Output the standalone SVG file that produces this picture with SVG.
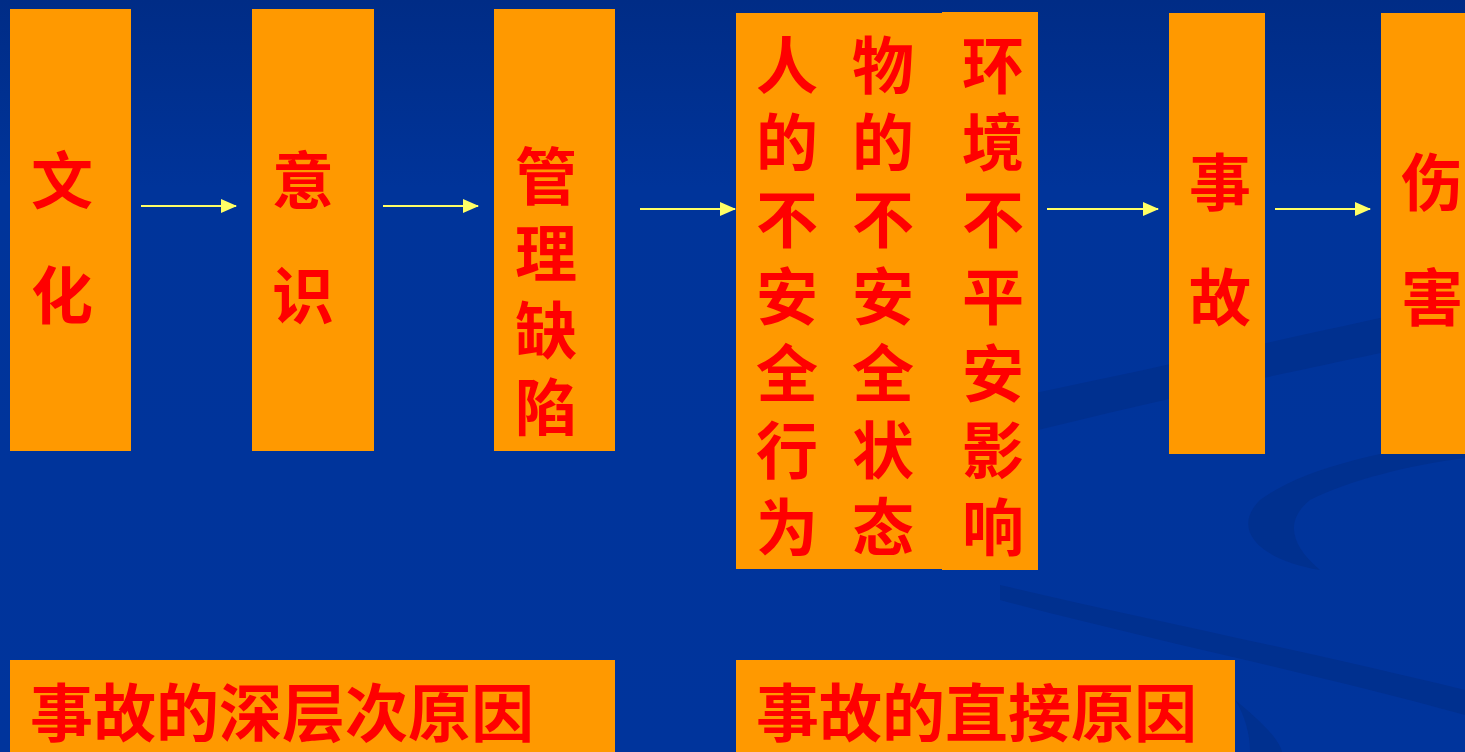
<svg xmlns="http://www.w3.org/2000/svg" width="1465" height="752" viewBox="0 0 1465 752">
<defs>
<linearGradient id="bg" x1="0" y1="0" x2="0" y2="1">
<stop offset="0" stop-color="#002c86"/>
<stop offset="0.25" stop-color="#00349a"/>
<stop offset="1" stop-color="#00349c"/>
</linearGradient>
<marker id="ah" markerWidth="16" markerHeight="14" refX="15" refY="7" orient="auto" markerUnits="userSpaceOnUse">
<path d="M0,0 L16,7 L0,14 Z" fill="#ffff66"/>
</marker>
<style>
.box{fill:#ff9900}
.t{font-family:"Noto Sans CJK SC","Noto Sans CJK TC",sans-serif;font-weight:bold;font-size:62px;fill:#ff0000;text-anchor:middle}
.tb{font-family:"Noto Sans CJK SC","Noto Sans CJK TC",sans-serif;font-weight:bold;font-size:63px;fill:#ff0000}
.c{stroke:#ffff66;stroke-width:2;fill:none;marker-end:url(#ah)}
.sw{fill:#00308f}
</style>
</defs>
<rect width="1465" height="752" fill="url(#bg)"/>
<g id="background-swirl">
<path class="sw" d="M1000,440 C1150,400 1350,360 1465,335 L1465,300 C1320,330 1150,370 1000,400 Z"/>
<path class="sw" d="M1465,440 C1380,450 1300,470 1260,500 C1230,530 1260,560 1320,570 C1290,545 1285,520 1310,500 C1350,480 1410,465 1465,458 Z"/>
<path class="sw" d="M1000,600 C1150,640 1300,670 1465,715 L1465,690 C1300,650 1150,620 1000,585 Z"/>
<path class="sw" d="M1235,700 C1260,720 1280,740 1282,752 L1250,752 C1250,735 1245,715 1235,700 Z"/>
</g>
<g id="connectors">
<line class="c" x1="141" y1="206" x2="236" y2="206"/>
<line class="c" x1="383" y1="206" x2="478" y2="206"/>
<line class="c" x1="640" y1="209" x2="735" y2="209"/>
<line class="c" x1="1047" y1="209" x2="1158" y2="209"/>
<line class="c" x1="1275" y1="209" x2="1370" y2="209"/>
</g>
<g id="node-culture">
<rect class="box" x="10" y="9" width="121" height="442"/>
<text class="t" x="62" y="204">文<tspan x="62" dy="115">化</tspan></text>
</g>
<g id="node-awareness">
<rect class="box" x="252" y="9" width="122" height="442"/>
<text class="t" x="303" y="204">意<tspan x="303" dy="115">识</tspan></text>
</g>
<g id="node-management">
<rect class="box" x="494" y="9" width="121" height="442"/>
<text class="t" x="546" y="200">管<tspan x="546" dy="77">理</tspan><tspan x="546" dy="77">缺</tspan><tspan x="546" dy="77">陷</tspan></text>
</g>
<g id="node-direct">
<rect class="box" x="736" y="13" width="207" height="556"/>
<rect class="box" x="942" y="12" width="96" height="558"/>
<text class="t" x="787" y="89">人<tspan x="787" dy="77">的</tspan><tspan x="787" dy="77">不</tspan><tspan x="787" dy="77">安</tspan><tspan x="787" dy="77">全</tspan><tspan x="787" dy="77">行</tspan><tspan x="787" dy="77">为</tspan></text>
<text class="t" x="883" y="89">物<tspan x="883" dy="77">的</tspan><tspan x="883" dy="77">不</tspan><tspan x="883" dy="77">安</tspan><tspan x="883" dy="77">全</tspan><tspan x="883" dy="77">状</tspan><tspan x="883" dy="77">态</tspan></text>
<text class="t" x="993" y="89">环<tspan x="993" dy="77">境</tspan><tspan x="993" dy="77">不</tspan><tspan x="993" dy="77">平</tspan><tspan x="993" dy="77">安</tspan><tspan x="993" dy="77">影</tspan><tspan x="993" dy="77">响</tspan></text>
</g>
<g id="node-accident">
<rect class="box" x="1169" y="13" width="96" height="441"/>
<text class="t" x="1220" y="206">事<tspan x="1220" dy="115">故</tspan></text>
</g>
<g id="node-injury">
<rect class="box" x="1381" y="13" width="90" height="441"/>
<text class="t" x="1432" y="206">伤<tspan x="1432" dy="115">害</tspan></text>
</g>
<g id="label-deep">
<rect class="box" x="10" y="660" width="605" height="100"/>
<text class="tb" x="30" y="736">事故的深层次原因</text>
</g>
<g id="label-direct">
<rect class="box" x="736" y="660" width="499" height="100"/>
<text class="tb" x="756" y="736">事故的直接原因</text>
</g>
</svg>
